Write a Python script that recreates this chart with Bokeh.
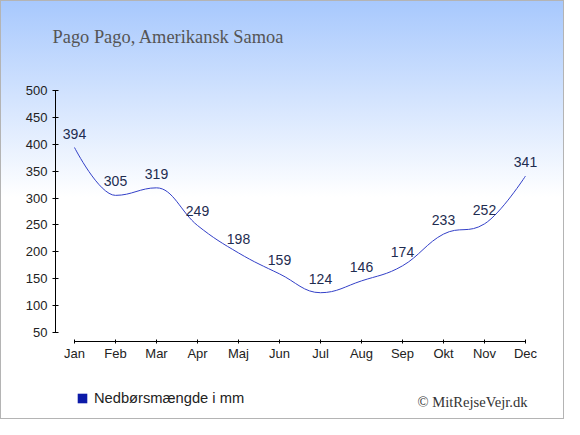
from bokeh.plotting import figure
from bokeh.models import Range1d, FixedTicker, Label, Legend
from bokeh.core.properties import value
from bokeh.embed import file_html
from bokeh.resources import INLINE

months = ["Jan", "Feb", "Mar", "Apr", "Maj", "Jun", "Jul", "Aug", "Sep", "Okt", "Nov", "Dec"]
rain = [394, 305, 319, 249, 198, 159, 124, 146, 174, 233, 252, 341]
y_ticks = [50, 100, 150, 200, 250, 300, 350, 400, 450, 500]
title_text = "Pago Pago, Amerikansk Samoa"
legend_text = "Nedbørsmængde i mm"
credit_text = "© MitRejseVejr.dk"

xs = list(range(len(months)))

# Highcharts-style spline control points
def spline_controls(xv, yv, smoothing=1.5):
    n = len(xv)
    lc = [(xv[i], yv[i]) for i in range(n)]
    rc = [(xv[i], yv[i]) for i in range(n)]
    d = smoothing + 1
    for i in range(1, n - 1):
        px, py = xv[i], yv[i]
        lx, ly = xv[i - 1], yv[i - 1]
        nx, ny = xv[i + 1], yv[i + 1]
        lcx = (smoothing * px + lx) / d
        lcy = (smoothing * py + ly) / d
        rcx = (smoothing * px + nx) / d
        rcy = (smoothing * py + ny) / d
        if rcx != lcx:
            corr = ((rcy - lcy) * (rcx - px)) / (rcx - lcx) + py - rcy
            lcy += corr
            rcy += corr
            if lcy > ly and lcy > py:
                lcy = max(ly, py); rcy = 2 * py - lcy
            elif lcy < ly and lcy < py:
                lcy = min(ly, py); rcy = 2 * py - lcy
            if rcy > ny and rcy > py:
                rcy = max(ny, py); lcy = 2 * py - rcy
            elif rcy < ny and rcy < py:
                rcy = min(ny, py); lcy = 2 * py - rcy
        lc[i] = (lcx, lcy)
        rc[i] = (rcx, rcy)
    return lc, rc

lc, rc = spline_controls(xs, rain)
x0 = xs[:-1]; y0 = rain[:-1]
x1 = xs[1:]; y1 = rain[1:]
cx0 = [rc[i][0] for i in range(len(xs) - 1)]
cy0 = [rc[i][1] for i in range(len(xs) - 1)]
cx1 = [lc[i + 1][0] for i in range(len(xs) - 1)]
cy1 = [lc[i + 1][1] for i in range(len(xs) - 1)]

# frame covers the whole canvas; axes are drawn at fixed locations inside it
p = figure(frame_width=564, frame_height=419, output_backend="svg", toolbar_location=None,
           title=None,
           x_range=Range1d(-1.8049, 11.9512), y_range=Range1d(-111.77, 667.36),
           min_border_left=0, min_border_right=0, min_border_top=0, min_border_bottom=0,
           background_fill_alpha=0, border_fill_alpha=0, outline_line_color=None,
           styles={"background": "linear-gradient(to bottom, #a7c8fd 0%, #ffffff 47%, #ffffff 100%)",
                   "outline": "1px solid #b4b4b4", "outline-offset": "-1px"})
p.xgrid.visible = False
p.ygrid.visible = False

p.bezier(x0=x0, y0=y0, x1=x1, y1=y1, cx0=cx0, cy0=cy0, cx1=cx1, cy1=cy1,
         line_color="#3340c8", line_width=1)

p.text(x=xs, y=rain, text=[str(v) for v in rain], text_align="center", text_baseline="middle",
       y_offset=-14, text_font=value("Liberation Sans"), text_font_size="14px", text_color="#1e2c50")

# zero-area quads at the data points: invisible, only feed the legend swatch
r_leg = p.quad(left=xs, right=xs, top=rain, bottom=rain, fill_color="#0c1aa8", line_color=None)

# axes
xa = p.xaxis[0]
xa.fixed_location = 33.26
xa.ticker = FixedTicker(ticks=xs)
xa.major_label_overrides = {i: m for i, m in enumerate(months)}
xa.bounds = (0, 11)
xa.minor_tick_line_color = None
xa.major_tick_in = 2
xa.major_tick_out = 2
xa.major_label_standoff = 2
xa.axis_line_color = "#000000"
xa.major_tick_line_color = "#000000"
xa.major_label_text_font = "Liberation Sans"
xa.major_label_text_font_size = "13px"
xa.major_label_text_color = "#222222"

ya = p.yaxis[0]
ya.fixed_location = -0.4634
ya.ticker = FixedTicker(ticks=y_ticks)
ya.bounds = (50, 500)
ya.minor_tick_line_color = None
ya.major_tick_in = 3
ya.major_tick_out = 3
ya.major_label_standoff = 5
ya.axis_line_color = "#000000"
ya.major_tick_line_color = "#000000"
ya.major_label_text_font = "Liberation Sans"
ya.major_label_text_font_size = "13px"
ya.major_label_text_color = "#222222"

lg = Legend(items=[(legend_text, [r_leg])], location=(76, 13),
            glyph_width=12, glyph_height=12, label_height=17, label_standoff=6,
            padding=0, margin=0, spacing=0, border_line_color=None, background_fill_alpha=0,
            label_text_font="Liberation Sans", label_text_font_size="14.7px",
            label_text_color="#222222")
p.add_layout(lg, "center")

p.add_layout(Label(x=-0.5366, y=598.6, text=title_text,
                   text_font="Liberation Serif", text_font_size="18.4px", text_color="#555555",
                   text_align="left", text_baseline="alphabetic"))
p.add_layout(Label(x=11.049, y=-78.3, text=credit_text,
                   text_font="Liberation Serif", text_font_size="14.6px", text_color="#333333",
                   text_align="right", text_baseline="alphabetic"))

open("out.html", "w").write(file_html(p, INLINE))
